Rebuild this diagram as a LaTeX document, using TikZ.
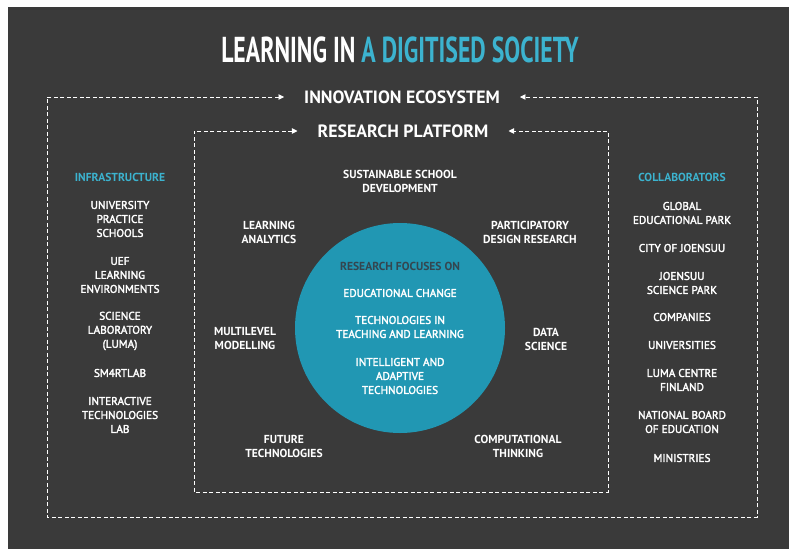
\documentclass[tikz,border=0pt]{standalone}
\usepackage{fontspec}
\setmainfont{PT Sans}
\newfontfamily\titlefont{PT Sans}[FakeStretch=0.66]
\newfontfamily\semifont{PT Sans}[FakeBold=2.5]
\usetikzlibrary{arrows.meta}
\definecolor{boardgray}{HTML}{3A3A3A}
\definecolor{titleteal}{HTML}{3CB3CF}
\definecolor{focusteal}{HTML}{2197B3}
\definecolor{focusdark}{HTML}{34464F}
\begin{document}
\begin{tikzpicture}[x=1pt,y=-1pt,
    every node/.style={
      text=white,
      align=center,
      inner sep=0pt   % nodes hug their text
    },
    heading/.style={font=\bfseries\fontsize{17.8}{20}\selectfont, inner xsep=20pt},
    topic/.style={font=\bfseries\fontsize{11.6}{14}\selectfont},
    item/.style={font=\semifont\fontsize{11.2}{14}\selectfont},
    colhead/.style={font=\bfseries\fontsize{11.6}{14}\selectfont, text=titleteal},
    dashline/.style={draw=white, line width=0.9pt, dash pattern=on 4pt off 2.5pt,
      {Triangle[length=5.5pt,width=5.5pt]}-{Triangle[length=5.5pt,width=5.5pt]}}
  ]
  \useasboundingbox (0,0) rectangle (789,549);
  \fill[white] (0,0) rectangle (789,549);
  \fill[boardgray] (8,7) rectangle (789,549);

  % title
  \node[font=\titlefont\bfseries\fontsize{36}{40}\selectfont] (title) at (400,50)
    {LEARNING IN \textcolor{titleteal}{A DIGITISED SOCIETY}};

  % the two frames
  \node[heading] (eco) at (402,97) {INNOVATION ECOSYSTEM};
  \node[heading] (plat) at (403,131) {RESEARCH PLATFORM};
  \coordinate (ecoBL) at (47,517);
  \coordinate (ecoBR) at (757,517);
  \coordinate (platBL) at (194,492);
  \coordinate (platBR) at (608,492);
  \draw[dashline] (eco.west) -| (ecoBL) -- (ecoBR) |- (eco.east);
  \draw[dashline] (plat.west) -| (platBL) -- (platBR) |- (plat.east);

  % research focuses
  \node[circle, fill=focusteal, minimum size=210pt] (focus) at (400,328) {};
  \node[font=\bfseries\fontsize{11.6}{14}\selectfont, text=focusdark] (rfo) at (400,266) {RESEARCH FOCUSES ON};
  \node[item] (edu) at (400,293) {EDUCATIONAL CHANGE};
  \node[item] (ttl) at (400,327) {TECHNOLOGIES IN\\TEACHING AND LEARNING};
  \node[item] (iat) at (400,376) {INTELLIGENT AND\\ADAPTIVE\\TECHNOLOGIES};

  % topics round the circle
  \node[topic] (ssd) at (400,181) {SUSTAINABLE SCHOOL\\DEVELOPMENT};
  \node[topic] (la) at (269,232) {LEARNING\\ANALYTICS};
  \node[topic] (pdr) at (530,232) {PARTICIPATORY\\DESIGN RESEARCH};
  \node[topic] (mm) at (245,339) {MULTILEVEL\\MODELLING};
  \node[topic] (ds) at (546,339) {DATA\\SCIENCE};
  \node[topic] (ft) at (284,446) {FUTURE\\TECHNOLOGIES};
  \node[topic] (ct) at (518,446) {COMPUTATIONAL\\THINKING};

  % infrastructure
  \node[colhead] (infra) at (120,177) {INFRASTRUCTURE};
  \node[item] (ups) at (120,219) {UNIVERSITY\\PRACTICE\\SCHOOLS};
  \node[item] (uef) at (120,275) {UEF\\LEARNING\\ENVIRONMENTS};
  \node[item] (luma) at (120,331) {SCIENCE\\LABORATORY\\(LUMA)};
  \node[item] (smart) at (120,373) {SM4RTLAB};
  \node[item] (itl) at (120,415) {INTERACTIVE\\TECHNOLOGIES\\LAB};

  % collaborators
  \node[colhead] (collab) at (682,177) {COLLABORATORS};
  \node[item] (gep) at (682,213) {GLOBAL\\EDUCATIONAL PARK};
  \node[item] (city) at (682,248) {CITY OF JOENSUU};
  \node[item] (jsp) at (682,283) {JOENSUU\\SCIENCE PARK};
  \node[item] (comp) at (682,317) {COMPANIES};
  \node[item] (univ) at (682,345) {UNIVERSITIES};
  \node[item] (lcf) at (682,380) {LUMA CENTRE\\FINLAND};
  \node[item] (nbe) at (682,422) {NATIONAL BOARD\\OF EDUCATION};
  \node[item] (min) at (682,458) {MINISTRIES};
\end{tikzpicture}
\end{document}
